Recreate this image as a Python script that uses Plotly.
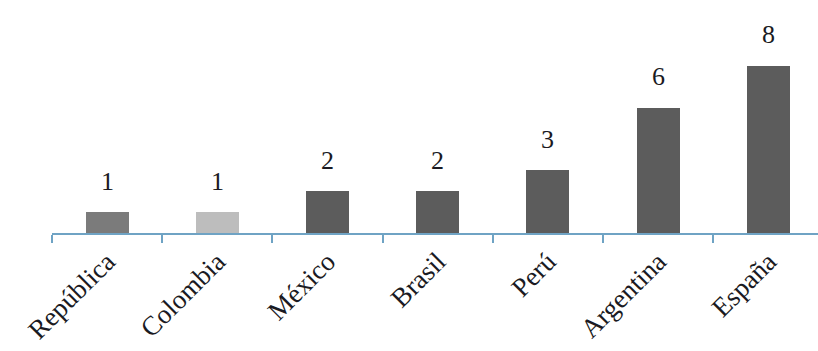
import plotly.graph_objects as go

categories = ["República", "Colombia", "México", "Brasil", "Perú", "Argentina", "España"]
values = [1, 1, 2, 2, 3, 6, 8]
bar_colors = ["#7b7b7b", "#bdbdbd", "#5c5c5c", "#5c5c5c", "#5c5c5c", "#5c5c5c", "#5c5c5c"]

fig = go.Figure()
fig.add_trace(go.Bar(
    x=categories, y=values, width=0.39,
    marker=dict(color=bar_colors, line=dict(width=0)),
    showlegend=False,
))

for c, v in zip(categories, values):
    fig.add_annotation(x=c, y=v, text=str(v), showarrow=False, yshift=31,
                       yanchor="middle",
                       font=dict(family="Liberation Serif, Times New Roman, serif", size=26, color="#1a1a22"))

fig.update_xaxes(
    range=[-0.5, 6.45], showline=True, linecolor="#6fa3c4", linewidth=2,
    ticks="outside", tickson="boundaries", ticklen=8, tickcolor="#6fa3c4", tickwidth=1.5,
    tickangle=-45, tickfont=dict(family="Liberation Serif, Times New Roman, serif", size=27, color="#1a1a22"),
    showgrid=False, zeroline=False,
)
fig.update_yaxes(range=[0, 11.15], visible=False, showgrid=False, zeroline=False)

fig.update_layout(
    width=818, height=351,
    margin=dict(l=52, r=0, t=0, b=118),
    plot_bgcolor="white", paper_bgcolor="white",
    bargap=0,
)

fig.write_html("out.html")
